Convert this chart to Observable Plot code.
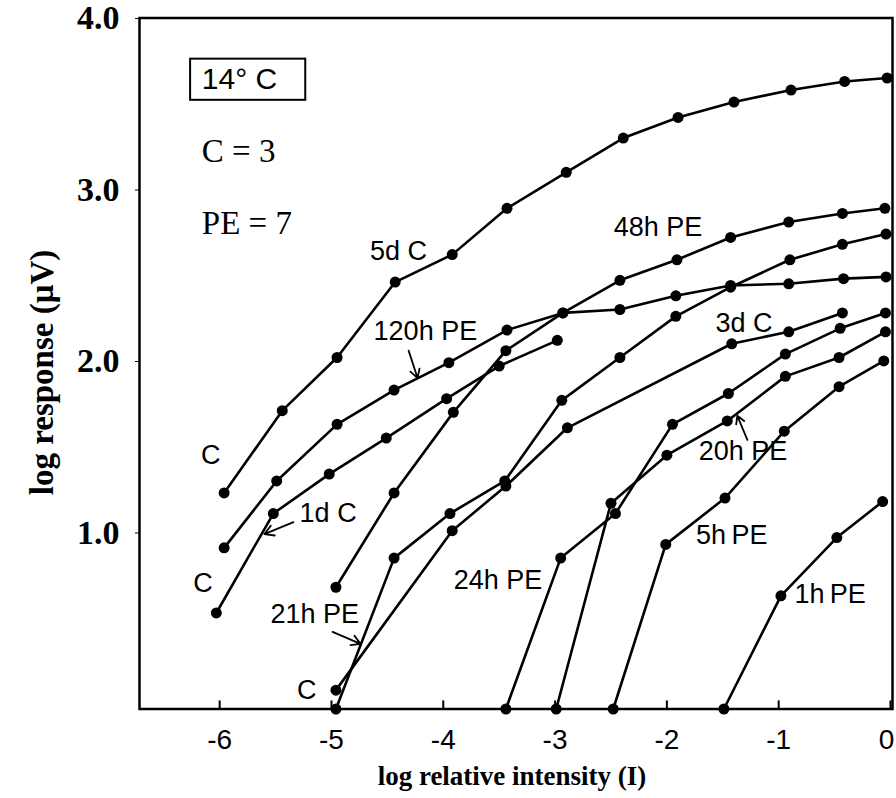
<!DOCTYPE html>
<html><head><meta charset="utf-8">
<script src="https://cdn.jsdelivr.net/npm/d3@7"></script>
<script src="https://cdn.jsdelivr.net/npm/@observablehq/plot@0.6"></script>
<style>body{margin:0;background:#fff}</style>
</head><body><div id="chart"></div>
<script>
// ---- data (log relative intensity, log response) ----
const seriesNames = ["5d C","120h PE","1d C","48h PE","21h PE","3d C","24h PE","20h PE","5h PE","1h PE"];
const x5dC   = [-5.96,-5.44,-4.95,-4.43,-3.92,-3.43,-2.90,-2.39,-1.90,-1.40,-0.89,-0.41,-0.03];
const y5dC   = [1.21,1.69,2.00,2.44,2.60,2.87,3.08,3.28,3.40,3.49,3.56,3.61,3.63];
const x120hPE = [-5.96,-5.49,-4.95,-4.44,-3.95,-3.43,-2.93,-2.42,-1.92,-1.43,-0.91,-0.42,-0.04];
const y120hPE = [0.89,1.28,1.61,1.81,1.97,2.16,2.26,2.28,2.36,2.42,2.43,2.46,2.47];
const x1dC   = [-6.03,-5.52,-5.02,-4.51,-3.97,-3.50,-2.98];
const y1dC   = [0.51,1.09,1.32,1.53,1.76,1.95,2.10];
const x48hPE = [-4.96,-4.44,-3.91,-3.44,-2.93,-2.42,-1.91,-1.43,-0.91,-0.43,-0.05];
const y48hPE = [0.66,1.21,1.68,2.04,2.26,2.45,2.57,2.70,2.79,2.84,2.87];
const x21hPE = [-4.96,-4.44,-3.94,-3.45,-2.94,-2.42,-1.92,-1.43,-0.90,-0.43,-0.04];
const y21hPE = [-0.05,0.83,1.09,1.28,1.75,2.00,2.24,2.41,2.57,2.66,2.72];
const x3dC   = [-4.96,-3.92,-3.44,-2.89,-1.42,-0.91,-0.43];
const y3dC   = [0.06,0.99,1.25,1.59,2.08,2.15,2.26];
const x24hPE = [-3.44,-2.95,-2.46,-1.95,-1.45,-0.94,-0.45,-0.045];
const y24hPE = [-0.05,0.83,1.09,1.61,1.79,2.02,2.17,2.26];
const x20hPE = [-2.99,-2.50,-2.00,-1.46,-0.94,-0.46,-0.045];
const y20hPE = [-0.05,1.15,1.43,1.63,1.89,2.00,2.15];
const x5hPE  = [-2.48,-2.01,-1.48,-0.95,-0.46,-0.06];
const y5hPE  = [-0.05,0.91,1.18,1.57,1.83,1.98];
const x1hPE  = [-1.49,-0.98,-0.48,-0.07];
const y1hPE  = [-0.05,0.61,0.95,1.16];

const xTicks = [-6,-5,-4,-3,-2,-1,0];
const yTicks = [1,2,3,4];

// annotation labels (data coordinates)
const labelText = ["5d C","48h PE","120h PE","C","3d C","20h PE","1d C","C","21h PE","C","24h PE","5h\u2009PE","1h\u2009PE"];
const labelX    = [-4.40,-2.08,-4.16,-6.08,-1.31,-1.32,-5.03,-6.15,-5.15,-5.22,-3.51,-1.42,-0.54];
const labelY    = [2.62,2.76,2.15,1.43,2.20,1.45,1.09,0.68,0.50,0.06,0.70,0.96,0.62];
const tempText  = "14° C";
const tempY     = 3.62;
const countText = ["C = 3","PE = 7"];
const countY    = [3.20,2.78];
const noteX     = -6.16;
const boxX = [-6.26,-5.23];
const boxY = [3.50,3.74];
// arrows: start (x1,y1) to head (x2,y2)
const arrowX1 = [-4.31,-5.34,-4.99,-1.28];
const arrowY1 = [2.04,1.04,0.40,1.52];
const arrowX2 = [-4.23,-5.60,-4.74,-1.37];
const arrowY2 = [1.88,0.97,0.33,1.66];

const xsAll = [x5dC,x120hPE,x1dC,x48hPE,x21hPE,x3dC,x24hPE,x20hPE,x5hPE,x1hPE];
const ysAll = [y5dC,y120hPE,y1dC,y48hPE,y21hPE,y3dC,y24hPE,y20hPE,y5hPE,y1hPE];
const rows = [];
seriesNames.forEach((s,i)=>xsAll[i].forEach((x,j)=>rows.push({series:s, x, y: ysAll[i][j]})));

const sans = "Liberation Sans, Arial, Helvetica, sans-serif";
const serif = "Liberation Serif, Times New Roman, serif";
const xFmt = d => d === 0 ? "0" : "-" + Math.abs(d);

const chart = Plot.plot({
  width: 896, height: 798,
  marginLeft: 139, marginRight: 4, marginTop: 17.5, marginBottom: 89.5,
  x: {domain: [-6.717, 0.018]},
  y: {domain: [-0.05, 3.98]},
  style: {background: "white", color: "black"},
  marks: [
    Plot.frame({stroke: "black", strokeWidth: 2.5}),
    Plot.ruleX(xTicks, {x: d=>d, y1: -0.05, y2: -0.003, stroke: "black", strokeWidth: 2}),
    Plot.axisX(xTicks.filter(d => d < 0), {anchor: "bottom", tickSize: 0, tickPadding: 20, fontSize: 28, fontFamily: sans,
      tickFormat: xFmt, label: null}),
    Plot.axisX(xTicks.filter(d => d === 0), {anchor: "bottom", tickSize: 0, tickPadding: 20, dx: -4, fontSize: 28, fontFamily: sans,
      tickFormat: xFmt, label: null}),
    Plot.axisY(yTicks, {anchor: "left", tickSize: 4, tickPadding: 16, dy: 4, fontSize: 34, fontWeight: "bold", fontFamily: serif,
      tickFormat: d3.format(".1f"), label: null}),
    Plot.text(["log response (μV)"], {text: d=>d, frameAnchor: "left", rotate: -90, dx: -97, dy: 9,
      textAnchor: "middle", lineAnchor: "middle", fontSize: 33, fontWeight: "bold", fontFamily: serif}),
    Plot.text(["log relative intensity (I)"], {text: d=>d, frameAnchor: "bottom", dy: 67, dx: -4,
      textAnchor: "middle", lineAnchor: "middle", fontSize: 27, fontWeight: "bold", fontFamily: serif}),
    Plot.line(rows, {x: "x", y: "y", z: "series", stroke: "black", strokeWidth: 2.6}),
    Plot.dot(rows, {x: "x", y: "y", r: 5.5, fill: "black", stroke: "none"}),
    Plot.arrow(arrowX1.map((_,i)=>i), {x1: i=>arrowX1[i], y1: i=>arrowY1[i], x2: i=>arrowX2[i], y2: i=>arrowY2[i],
      stroke: "black", strokeWidth: 1.8, headLength: 9}),
    Plot.text(labelText.map((_,i)=>i), {x: i=>labelX[i], y: i=>labelY[i], text: i=>labelText[i],
      fontSize: 27, fontFamily: sans, fill: "black"}),
    Plot.rect([0], {x1: ()=>boxX[0], x2: ()=>boxX[1], y1: ()=>boxY[0], y2: ()=>boxY[1], fill: "none", stroke: "black", strokeWidth: 2}),
    Plot.text([tempText], {x: ()=>noteX, y: ()=>tempY, text: d=>d, textAnchor: "start", fontSize: 30, fontFamily: sans}),
    Plot.text(countText.map((_,i)=>i), {x: ()=>noteX, y: i=>countY[i], text: i=>countText[i], textAnchor: "start",
      fontSize: 33, fontFamily: serif}),
  ]
});
document.getElementById("chart").appendChild(chart);
</script>
</body></html>
